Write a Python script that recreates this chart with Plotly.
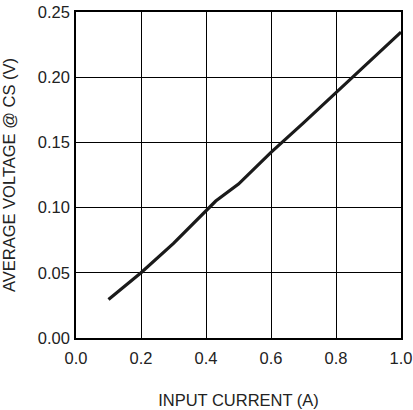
import plotly.graph_objects as go

current_a = [0.1, 0.2, 0.3, 0.4, 0.43, 0.5, 0.6, 0.7, 0.8, 0.9, 1.0]
voltage_v = [0.0295, 0.050, 0.0725, 0.097, 0.105, 0.118, 0.1423, 0.165, 0.188, 0.211, 0.2346]

x_ticks = [0.0, 0.2, 0.4, 0.6, 0.8, 1.0]
x_tick_labels = ["0.0", "0.2", "0.4", "0.6", "0.8", "1.0"]
y_ticks = [0.00, 0.05, 0.10, 0.15, 0.20, 0.25]
y_tick_labels = ["0.00", "0.05", "0.10", "0.15", "0.20", "0.25"]

fig = go.Figure()
fig.add_trace(go.Scatter(x=current_a, y=voltage_v, mode="lines",
                         line=dict(color="#1a1a1a", width=3.2), showlegend=False))

font = dict(family="Liberation Sans, Arial, sans-serif", size=16.5, color="#222")
fig.update_layout(
    width=413, height=410,
    margin=dict(l=76, r=12, t=12, b=72, autoexpand=False),
    paper_bgcolor="white", plot_bgcolor="white",
    font=font,
    xaxis=dict(range=[0, 1.0], tickvals=x_ticks, ticktext=x_tick_labels,
               showgrid=True, gridcolor="black", gridwidth=1,
               showline=True, linecolor="black", linewidth=1.5, mirror=True,
               ticks="", zeroline=False, automargin=False, ticklabelstandoff=4,
               title=dict(text="INPUT CURRENT (A)", standoff=29, font=font)),
    yaxis=dict(range=[0, 0.25], tickvals=y_ticks, ticktext=y_tick_labels,
               showgrid=True, gridcolor="black", gridwidth=1,
               showline=True, linecolor="black", linewidth=1.5, mirror=True,
               ticks="", zeroline=False, automargin=False, ticklabelstandoff=1,
               title=dict(text="AVERAGE VOLTAGE @ CS (V)", standoff=27, font=font)),
)
fig.write_html("out.html", config={"displayModeBar": False},
               post_script="document.body.style.margin='0';")
